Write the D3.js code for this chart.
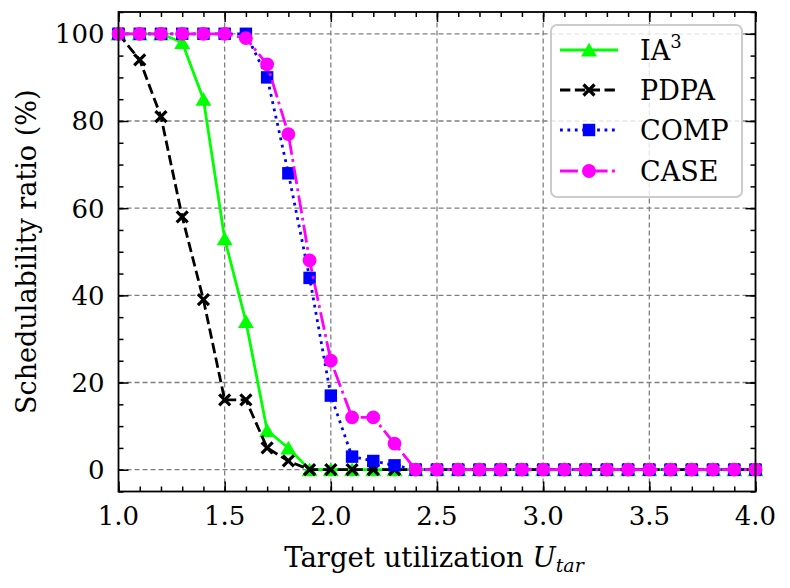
<!DOCTYPE html>
<html>
<head>
<meta charset="utf-8">
<script src="https://cdn.jsdelivr.net/npm/d3@7"></script>
<style>
  body { margin: 0; background: white; }
  text { font-family: "DejaVu Serif", serif; }
</style>
</head>
<body>
<div id="chart"></div>
<script>
// target utilization, 1.0 .. 4.0 step 0.1
const utilization = [1.0, 1.1, 1.2, 1.3, 1.4, 1.5, 1.6, 1.7, 1.8, 1.9, 2.0,
  2.1, 2.2, 2.3, 2.4, 2.5, 2.6, 2.7, 2.8, 2.9, 3.0,
  3.1, 3.2, 3.3, 3.4, 3.5, 3.6, 3.7, 3.8, 3.9, 4.0];

const ia3  = [100, 100, 100, 98, 85, 53, 34, 9, 5, 0, 0, 0, 0, 0, 0, 0, 0, 0, 0, 0, 0, 0, 0, 0, 0, 0, 0, 0, 0, 0, 0];
const pdpa = [100, 94, 81, 58, 39, 16, 16, 5, 2, 0, 0, 0, 0, 0, 0, 0, 0, 0, 0, 0, 0, 0, 0, 0, 0, 0, 0, 0, 0, 0, 0];
const comp = [100, 100, 100, 100, 100, 100, 100, 90, 68, 44, 17, 3, 2, 1, 0, 0, 0, 0, 0, 0, 0, 0, 0, 0, 0, 0, 0, 0, 0, 0, 0];
const cse  = [100, 100, 100, 100, 100, 100, 99, 93, 77, 48, 25, 12, 12, 6, 0, 0, 0, 0, 0, 0, 0, 0, 0, 0, 0, 0, 0, 0, 0, 0, 0];

const xTicks = [1.0, 1.5, 2.0, 2.5, 3.0, 3.5, 4.0];
const yTicks = [0, 20, 40, 60, 80, 100];

const width = 790, height = 588;
const margin = { top: 12, right: 34.5, bottom: 96.5, left: 118.5 };
const lw = 2.8;

const series = [
  { name: 'IA', sup: '3', values: ia3, color: '#00ff00', dash: null, marker: 'triangle' },
  { name: 'PDPA', values: pdpa, color: '#000000', dash: [3.7 * lw, 1.6 * lw], marker: 'x' },
  { name: 'COMP', values: comp, color: '#0000ff', dash: [1 * lw, 1.65 * lw], marker: 'square' },
  { name: 'CASE', values: cse, color: '#ff00ff', dash: [6.4 * lw, 1.6 * lw, 1 * lw, 1.6 * lw], marker: 'circle' }
];

const svg = d3.select('#chart')
  .append('svg')
  .attr('width', width)
  .attr('height', height)
  .style('background-color', 'white');

const x = d3.scaleLinear().domain([1.0, 4.0]).range([margin.left, width - margin.right]);
const y = d3.scaleLinear().domain([-5, 105]).range([height - margin.bottom, margin.top]);

const x0 = x.range()[0], x1 = x.range()[1];
const y0 = y.range()[0], y1 = y.range()[1];

// grid
const grid = svg.append('g');
grid.selectAll('.gx')
  .data(xTicks.slice(1, -1))
  .enter().append('line')
    .attr('x1', d => x(d)).attr('x2', d => x(d))
    .attr('y1', y0).attr('y2', y1)
    .attr('stroke', '#808080').attr('stroke-width', 1.3)
    .attr('stroke-dasharray', '5,3');
grid.selectAll('.gy')
  .data(yTicks)
  .enter().append('line')
    .attr('x1', x0).attr('x2', x1)
    .attr('y1', d => y(d)).attr('y2', d => y(d))
    .attr('stroke', '#808080').attr('stroke-width', 1.3)
    .attr('stroke-dasharray', '5,3');

// axes with inward ticks on all four sides
const majLen = 10, minLen = 5;
const xMinor = d3.range(10, 41).map(d => d / 10);
const yMinor = d3.range(-5, 106, 5);

function tickAxis(axisFn, scale, ticks, len, transform) {
  svg.append('g')
    .attr('transform', transform)
    .call(axisFn(scale).tickValues(ticks).tickSize(len).tickFormat(''))
    .call(g => g.select('.domain').remove())
    .call(g => g.selectAll('line').attr('stroke', 'black').attr('stroke-width', 1.5));
}
tickAxis(d3.axisTop, x, xMinor, minLen, `translate(0,${y0})`);
tickAxis(d3.axisTop, x, xTicks, majLen, `translate(0,${y0})`);
tickAxis(d3.axisBottom, x, xMinor, minLen, `translate(0,${y1})`);
tickAxis(d3.axisBottom, x, xTicks, majLen, `translate(0,${y1})`);
tickAxis(d3.axisRight, y, yMinor, minLen, `translate(${x0},0)`);
tickAxis(d3.axisRight, y, yTicks, majLen, `translate(${x0},0)`);
tickAxis(d3.axisLeft, y, yMinor, minLen, `translate(${x1},0)`);
tickAxis(d3.axisLeft, y, yTicks, majLen, `translate(${x1},0)`);

// tick labels
svg.append('g').selectAll('text')
  .data(xTicks)
  .enter().append('text')
    .attr('x', d => x(d))
    .attr('y', y0 + 33.5)
    .attr('text-anchor', 'middle')
    .attr('font-size', '26px')
    .text(d => d.toFixed(1));
svg.append('g').selectAll('text')
  .data(yTicks)
  .enter().append('text')
    .attr('x', x0 - 14)
    .attr('y', d => y(d))
    .attr('dy', '0.36em')
    .attr('text-anchor', 'end')
    .attr('font-size', '26px')
    .text(d => d);

// series
const symbolFor = {
  triangle: d3.symbol().type(d3.symbolTriangle).size(110),
  square: d3.symbol().type(d3.symbolSquare).size(155),
  circle: d3.symbol().type(d3.symbolCircle).size(150)
};

function drawMarker(g, s, cx, cy) {
  if (s.marker === 'x') {
    const r = 5.5;
    g.append('path')
      .attr('d', `M${cx - r},${cy - r}L${cx + r},${cy + r}M${cx - r},${cy + r}L${cx + r},${cy - r}`)
      .attr('stroke', s.color).attr('stroke-width', 3.2).attr('fill', 'none');
  } else {
    const dyOff = s.marker === 'triangle' ? 2 : 0;
    g.append('path')
      .attr('d', symbolFor[s.marker]())
      .attr('transform', `translate(${cx},${cy + dyOff})`)
      .attr('fill', s.color);
  }
}

const line = d3.line().x(d => x(d[0])).y(d => y(d[1]));

series.forEach(s => {
  const g = svg.append('g');
  const pts = utilization.map((u, i) => [u, s.values[i]]);
  g.append('path')
    .datum(pts)
    .attr('d', line)
    .attr('fill', 'none')
    .attr('stroke', s.color)
    .attr('stroke-width', lw)
    .attr('stroke-dasharray', s.dash ? s.dash.join(',') : null);
  pts.forEach(p => drawMarker(g, s, x(p[0]), y(p[1])));
});

// frame
svg.append('rect')
  .attr('x', x0).attr('y', y1)
  .attr('width', x1 - x0).attr('height', y0 - y1)
  .attr('fill', 'none').attr('stroke', 'black').attr('stroke-width', 1.8);

// axis labels
const xl = svg.append('text')
  .attr('x', 434)
  .attr('y', 567)
  .attr('text-anchor', 'middle')
  .attr('font-size', '27.5px');
xl.append('tspan').text('Target utilization ');
xl.append('tspan').attr('font-style', 'italic').text('U');
xl.append('tspan').attr('font-style', 'italic').attr('font-size', '19px').attr('dy', 5).text('tar');

svg.append('text')
  .attr('transform', `translate(36,${(y0 + y1) / 2}) rotate(-90)`)
  .attr('text-anchor', 'middle')
  .attr('font-size', '27px')
  .text('Schedulability ratio (%)');

// legend
const lg = svg.append('g');
lg.append('rect')
  .attr('x', 551).attr('y', 25)
  .attr('width', 191).attr('height', 172)
  .attr('rx', 6)
  .attr('fill', 'white').attr('fill-opacity', 0.8)
  .attr('stroke', '#cccccc').attr('stroke-width', 2);

const legendY = [50, 90, 130, 171];
series.forEach((s, i) => {
  const ly = legendY[i];
  lg.append('line')
    .attr('x1', 560).attr('x2', 618)
    .attr('y1', ly).attr('y2', ly)
    .attr('stroke', s.color).attr('stroke-width', lw)
    .attr('stroke-dasharray', s.dash ? s.dash.join(',') : null);
  drawMarker(lg, s, 589, ly);
  const t = lg.append('text')
    .attr('x', 640).attr('y', ly)
    .attr('dy', '0.36em')
    .attr('font-size', '27px');
  t.append('tspan').text(s.name);
  if (s.sup) {
    t.append('tspan').attr('font-size', '18px').attr('dy', -12).text(s.sup);
  }
});
</script>
</body>
</html>
